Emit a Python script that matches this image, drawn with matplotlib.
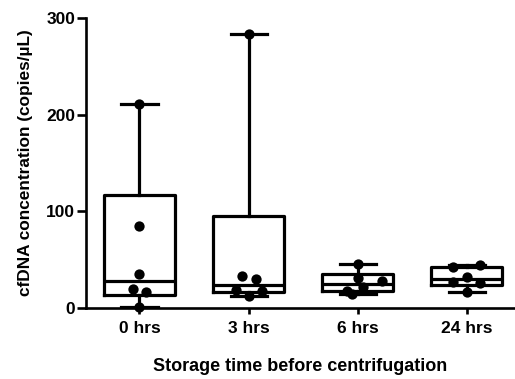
import numpy as np
import matplotlib
matplotlib.use("Agg")
import matplotlib.pyplot as plt

plt.rcParams["font.family"] = ["Liberation Sans", "DejaVu Sans"]
plt.rcParams["font.weight"] = "bold"

# cfDNA concentration (copies/uL) per storage time
categories = ["0 hrs", "3 hrs", "6 hrs", "24 hrs"]
conc_0h = [1, 17, 20, 35, 85, 211]
conc_3h = [12, 18, 19, 29.5, 33, 283]
conc_6h = [15, 18, 22, 28, 31, 46]
conc_24h = [17, 26, 27, 32, 42, 45]
series = [conc_0h, conc_3h, conc_6h, conc_24h]

# horizontal spread of the individual points within each group
spread = [
    [0, 0.06, -0.06, 0, 0, 0],
    [0, 0.12, -0.12, 0.065, -0.06, 0],
    [-0.05, -0.1, 0.05, 0.22, 0, 0],
    [0, 0.12, -0.13, 0, -0.13, 0.12],
]

yticks = [0, 100, 200, 300]


def box_stats(vals, label):
    v = np.asarray(vals, dtype=float)
    q1, med, q3 = np.percentile(v, [25, 50, 75], method="weibull")
    return dict(label=label, med=med, q1=q1, q3=q3,
                whislo=v.min(), whishi=v.max(), fliers=[])


fig = plt.figure(figsize=(5.15, 3.79), dpi=100)
ax = fig.add_axes([0.167, 0.1873, 0.833, 0.7652])

lw = 2.3
stats = [box_stats(v, c) for v, c in zip(series, categories)]
pos = np.arange(len(categories))
ax.bxp(stats, positions=pos, widths=0.65, showfliers=False,
       boxprops=dict(color="black", linewidth=lw),
       medianprops=dict(color="black", linewidth=lw),
       whiskerprops=dict(color="black", linewidth=lw),
       capprops=dict(color="black", linewidth=lw),
       capwidths=0.33, manage_ticks=False)

for p, vals, offs in zip(pos, series, spread):
    ax.scatter(p + np.asarray(offs), vals, s=55, color="black",
               zorder=5, clip_on=False, linewidths=0)

ax.set_xlim(-0.49, 3.44)
ax.set_ylim(0, 300)
ax.set_yticks(yticks)
ax.set_xticks(pos)
ax.set_xticklabels(categories)

for side in ("top", "right"):
    ax.spines[side].set_visible(False)
for side in ("left", "bottom"):
    ax.spines[side].set_linewidth(1.9)

ax.tick_params(axis="y", length=6.2, width=1.9, pad=1.5, labelsize=12.5)
ax.tick_params(axis="x", length=4.5, width=1.9, pad=5, labelsize=12.5)
for t in ax.get_xticklabels() + ax.get_yticklabels():
    t.set_fontweight("bold")

ax.set_ylabel("cfDNA concentration (copies/\u00b5L)", fontsize=12.4,
              fontweight="bold", labelpad=9.5)
ax.set_xlabel("Storage time before centrifugation", fontsize=13,
              fontweight="bold", labelpad=16)

fig.savefig("out.png", dpi=100)
